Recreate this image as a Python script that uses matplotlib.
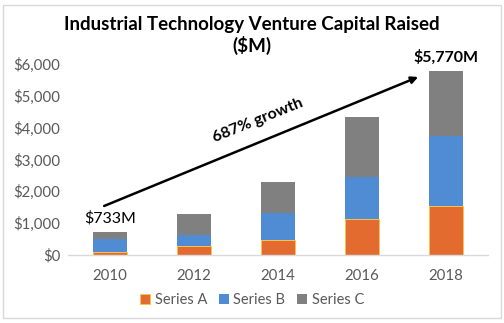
import matplotlib
matplotlib.use("Agg")
import matplotlib.pyplot as plt
from matplotlib.patches import Rectangle

plt.rcParams['font.family'] = ['Lato', 'DejaVu Sans']

years = ["2010", "2012", "2014", "2016", "2018"]
series_a = [100, 283, 472, 1132, 1541]
series_b = [393, 347, 858, 1330, 2211]
series_c = [240, 650, 960, 1868, 2018]
totals = [a + b + c for a, b, c in zip(series_a, series_b, series_c)]

colors = {"Series A": "#E36B2F", "Series B": "#508CD4", "Series C": "#808080"}

fig = plt.figure(figsize=(5.04, 3.23), dpi=100)
ax = fig.add_axes([0.135, 0.2105, 0.833, 0.5914])

x = list(range(len(years)))
bottom_b = series_a
bottom_c = [a + b for a, b in zip(series_a, series_b)]
ax.bar(x, series_a, width=0.4, color=colors["Series A"], edgecolor="#F5C542",
       linewidth=0.6, label="Series A")
ax.bar(x, series_b, width=0.4, bottom=bottom_b, color=colors["Series B"], label="Series B")
ax.bar(x, series_c, width=0.4, bottom=bottom_c, color=colors["Series C"], label="Series C")

ax.set_xlim(-0.5, 4.5)
ax.set_ylim(0, 6000)
ax.set_xticks(x)
ax.set_xticklabels(years)
ax.set_yticks(range(0, 6001, 1000))
ax.set_yticklabels(["${:,}".format(v) for v in range(0, 6001, 1000)])
ax.tick_params(axis="both", length=0, labelsize=10.8, colors="#595959")
ax.tick_params(axis="y", pad=5.5)
ax.tick_params(axis="x", pad=10)
for s in ["top", "right", "left"]:
    ax.spines[s].set_visible(False)
ax.spines["bottom"].set_color("#D9D9D9")
ax.spines["bottom"].set_linewidth(1)

# growth arrow and labels
ax.annotate("", xy=(3.67, 5592), xytext=(-0.07, 1540),
            arrowprops=dict(arrowstyle="-|>", color="black", lw=1.8,
                            mutation_scale=10, shrinkA=0, shrinkB=0))
ax.text(1.76, 4220, "687% growth", rotation=22, ha="center", va="center",
        fontsize=11.5, fontweight="bold")
ax.text(0, totals[0] + 420, "$733M", ha="center", va="center", fontsize=11.5)
ax.text(4, totals[4] + 450, "$5,770M", ha="center", va="center", fontsize=11.5,
        fontweight="bold")

# title as two lines so the second line's box stays narrow
fig.text(0.5, 0.925, "Industrial Technology Venture Capital Raised", ha="center",
         va="center", fontsize=13.5, fontweight="bold")
fig.text(0.5, 0.858, "($M)", ha="center", va="center", fontsize=13.5,
         fontweight="bold")

leg = fig.legend(loc="center", bbox_to_anchor=(0.5, 0.072), ncol=3, frameon=False,
                 fontsize=10.5, handlelength=0.7, handleheight=0.7, handletextpad=0.3,
                 columnspacing=0.8)
for t in leg.get_texts():
    t.set_color("#595959")

fig.patches.append(Rectangle((0.006, 0.015), 0.988, 0.97, transform=fig.transFigure,
                             fill=False, edgecolor="#D9D9D9", linewidth=1))

fig.savefig("out.png", dpi=100)
